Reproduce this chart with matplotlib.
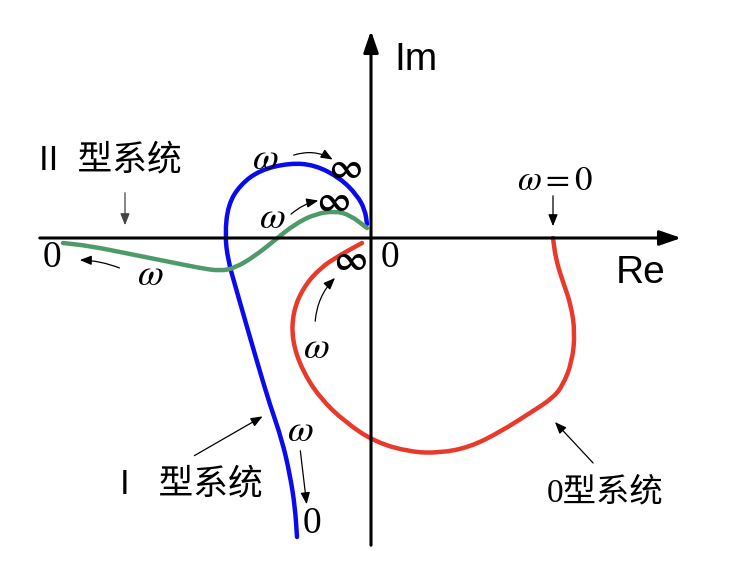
import matplotlib
matplotlib.use("Agg")
import matplotlib.pyplot as plt
from matplotlib.path import Path
from matplotlib.patches import PathPatch

plt.rcParams['mathtext.fontset'] = 'stix'

# curves (Re, Im)
type0_re = [1.82, 1.85, 1.92, 2.00, 2.04, 2.01, 1.92, 1.82, 1.59, 1.29, 0.99, 0.69,
            0.39, 0.04, -0.26, -0.51, -0.69, -0.79, -0.78, -0.68, -0.51, -0.31, -0.09]
type0_im = [0.00, -0.22, -0.44, -0.67, -0.95, -1.24, -1.47, -1.60, -1.75, -1.94, -2.09, -2.15,
            -2.14, -2.04, -1.84, -1.60, -1.32, -1.02, -0.74, -0.50, -0.30, -0.17, -0.05]

type1_re = [-0.74, -0.76, -0.81, -0.89, -1.01, -1.13, -1.26, -1.36, -1.43, -1.46, -1.43,
            -1.31, -1.11, -0.81, -0.56, -0.31, -0.14, -0.06, -0.04]
type1_im = [-2.99, -2.69, -2.37, -2.02, -1.67, -1.27, -0.82, -0.47, -0.22, 0.03, 0.33,
            0.53, 0.68, 0.75, 0.73, 0.60, 0.43, 0.28, 0.14]

type2_re = [-3.08, -2.81, -2.41, -2.01, -1.71, -1.51, -1.36, -1.16, -0.96, -0.76, -0.56,
            -0.36, -0.21, -0.04]
type2_im = [-0.05, -0.08, -0.16, -0.24, -0.30, -0.33, -0.30, -0.18, -0.02, 0.14, 0.24,
            0.27, 0.23, 0.10]

labels = ['0型系统', 'I   型系统', 'II  型系统']


def smooth_curve(ax, xs, ys, color):
    # quadratic bezier through midpoints, read points act as control points
    pts = list(zip(xs, ys))
    mid = lambda a, b: ((a[0] + b[0]) / 2, (a[1] + b[1]) / 2)
    verts = [pts[0], mid(pts[0], pts[1])]
    codes = [Path.MOVETO, Path.LINETO]
    for i in range(1, len(pts) - 1):
        verts += [pts[i], mid(pts[i], pts[i + 1])]
        codes += [Path.CURVE3, Path.CURVE3]
    verts.append(pts[-1])
    codes.append(Path.LINETO)
    ax.add_patch(PathPatch(Path(verts, codes), fill=False, edgecolor=color, lw=3.2,
                           capstyle='round', joinstyle='round'))


fig = plt.figure(figsize=(7.34, 5.76), dpi=100)
ax = fig.add_axes([0, 0, 1, 1])
ax.set_xlim(-3.71, 3.63)
ax.set_ylim(-3.38, 2.38)
ax.axis('off')

# axes with arrows
ax.annotate('', xy=(3.13, 0), xytext=(-3.34, 0),
            arrowprops=dict(arrowstyle='-|>,head_length=1.3,head_width=0.45', color='black', lw=2.2))
ax.annotate('', xy=(0, 2.10), xytext=(0, -3.10),
            arrowprops=dict(arrowstyle='-|>,head_length=1.3,head_width=0.45', color='black', lw=2.2))

smooth_curve(ax, type0_re, type0_im, '#e8392a')
smooth_curve(ax, type1_re, type1_im, '#0a0aee')
smooth_curve(ax, type2_re, type2_im, '#4f9a6a')

serif = 'Liberation Serif'
cjk = ['Liberation Sans', 'Noto Sans CJK SC']
thin = dict(arrowstyle='-|>,head_length=0.7,head_width=0.28', color='black', lw=0.9)

ax.text(2.70, -0.35, 'Re', fontsize=28, family='Liberation Sans', ha='center', va='center')
ax.text(0.45, 1.78, 'Im', fontsize=28, family='Liberation Sans', ha='center', va='center')

# II type
ax.text(-3.32, 0.78, labels[2], fontsize=25, family=cjk, ha='left', va='center')
ax.annotate('', xy=(-2.46, 0.10), xytext=(-2.46, 0.48),
            arrowprops=dict(arrowstyle='-|>,head_length=0.7,head_width=0.28', color='#444444', lw=0.9))
ax.text(-3.19, -0.20, '0', fontsize=27, family=serif, ha='center', va='center')
ax.annotate('', xy=(-2.94, -0.22), xytext=(-2.49, -0.31),
            arrowprops=dict(thin, connectionstyle='arc3,rad=0.1'))
ax.text(-2.21, -0.37, r'$\omega$', fontsize=27, ha='center', va='center')

# upper arcs
ax.text(-1.06, 0.79, r'$\omega$', fontsize=27, ha='center', va='center')
ax.annotate('', xy=(-0.36, 0.77), xytext=(-0.80, 0.82),
            arrowprops=dict(thin, connectionstyle='arc3,rad=-0.25'))
ax.text(-0.26, 0.70, r'$\mathbf{\infty}$', fontsize=26, ha='center', va='center')
ax.text(-0.99, 0.20, r'$\omega$', fontsize=27, ha='center', va='center')
ax.annotate('', xy=(-0.50, 0.38), xytext=(-0.82, 0.22),
            arrowprops=dict(thin, connectionstyle='arc3,rad=-0.15'))
ax.text(-0.38, 0.37, r'$\mathbf{\infty}$', fontsize=26, ha='center', va='center')

# type 0 labels
ax.text(-0.21, -0.22, r'$\mathbf{\infty}$', fontsize=26, ha='center', va='center')
ax.text(0.19, -0.20, '0', fontsize=27, family=serif, ha='center', va='center')
ax.text(-0.55, -1.10, r'$\omega$', fontsize=27, ha='center', va='center')
ax.annotate('', xy=(-0.34, -0.38), xytext=(-0.56, -0.86),
            arrowprops=dict(thin, connectionstyle='arc3,rad=-0.2'))
ax.text(1.84, 0.58, r'$\omega = 0$', fontsize=25, ha='center', va='center')
ax.annotate('', xy=(1.82, 0.09), xytext=(1.82, 0.45), arrowprops=thin)
ax.text(2.34, -2.55, labels[0], fontsize=24, family=[serif, 'Noto Sans CJK SC'],
        ha='center', va='center')
ax.annotate('', xy=(1.82, -1.82), xytext=(2.24, -2.27), arrowprops=thin)

# I type
ax.text(-2.51, -2.46, labels[1], fontsize=25, family=cjk, ha='left', va='center')
ax.annotate('', xy=(-1.06, -1.77), xytext=(-1.79, -2.19), arrowprops=thin)
ax.text(-0.71, -1.93, r'$\omega$', fontsize=27, ha='center', va='center')
ax.annotate('', xy=(-0.64, -2.69), xytext=(-0.71, -2.10), arrowprops=thin)
ax.text(-0.59, -2.86, '0', fontsize=27, family=serif, ha='center', va='center')

fig.savefig('out.png', dpi=100)
